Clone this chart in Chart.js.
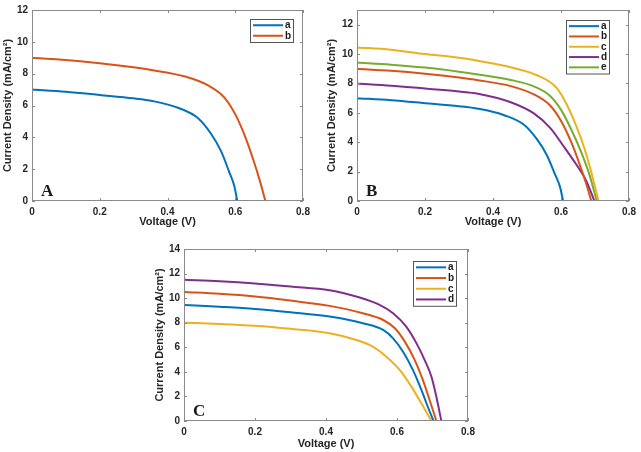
<!DOCTYPE html>
<html>
<head>
<meta charset="utf-8">
<script src="https://cdn.jsdelivr.net/npm/chart.js@4.4.1/dist/chart.umd.min.js"></script>
<style>
  body { margin: 0; background: #fff; }
  #wrap { position: relative; width: 641px; height: 452px; overflow: hidden; }
  canvas { position: absolute; }
</style>
</head>
<body>
<div id="wrap">
  <canvas id="chartA" width="320" height="232" style="left:0;top:0"></canvas>
  <canvas id="chartB" width="321" height="232" style="left:320px;top:0"></canvas>
  <canvas id="chartC" width="340" height="227" style="left:140px;top:225px"></canvas>
</div>
<script>
// ---------------- data ----------------
const xTicks = [0, 0.2, 0.4, 0.6, 0.8];

// curve a (same in panel A and B)
const voltA1 = [0, 0.1, 0.2, 0.3, 0.356, 0.433, 0.491, 0.529, 0.558, 0.582, 0.597, 0.606];
const currA1 = [7.0, 6.86, 6.66, 6.45, 6.28, 5.84, 5.19, 4.21, 3.13, 1.83, 0.96, 0];
// curve b (same in panel A and B)
const voltA2 = [0, 0.1, 0.2, 0.3, 0.356, 0.452, 0.52, 0.568, 0.601, 0.63, 0.655, 0.674, 0.689];
const currA2 = [9.0, 8.86, 8.66, 8.4, 8.22, 7.82, 7.26, 6.5, 5.41, 4.0, 2.48, 1.17, 0];

// panel B
const voltB3 = [0, 0.1, 0.2, 0.3, 0.356, 0.452, 0.529, 0.587, 0.616, 0.645, 0.669, 0.688, 0.71];
const currB3 = [10.45, 10.3, 10.0, 9.75, 9.54, 9.1, 8.56, 7.7, 6.6, 5.09, 3.56, 2.04, 0];
const voltB4 = [0, 0.1, 0.2, 0.3, 0.356, 0.452, 0.52, 0.568, 0.606, 0.645, 0.674, 0.698];
const currB4 = [8.0, 7.85, 7.65, 7.45, 7.3, 6.72, 5.96, 4.98, 3.78, 2.48, 1.39, 0];
const voltB5 = [0, 0.1, 0.2, 0.3, 0.356, 0.452, 0.52, 0.568, 0.601, 0.63, 0.659, 0.683, 0.705];
const currB5 = [9.42, 9.28, 9.08, 8.8, 8.61, 8.24, 7.8, 7.15, 6.17, 4.87, 3.35, 1.83, 0];

// panel C
const voltC1 = [0, 0.1, 0.2, 0.3, 0.41, 0.504, 0.561, 0.589, 0.617, 0.645, 0.669, 0.687, 0.703];
const currC1 = [9.45, 9.3, 9.12, 8.85, 8.5, 7.96, 7.41, 6.73, 5.64, 4.14, 2.51, 1.14, 0];
const voltC2 = [0, 0.1, 0.2, 0.3, 0.41, 0.504, 0.561, 0.594, 0.622, 0.65, 0.673, 0.692, 0.711];
const currC2 = [10.5, 10.35, 10.13, 9.8, 9.37, 8.77, 8.22, 7.55, 6.46, 4.96, 3.32, 1.69, 0];
const voltC3 = [0, 0.1, 0.2, 0.3, 0.41, 0.486, 0.532, 0.57, 0.608, 0.641, 0.669, 0.697];
const currC3 = [8.0, 7.9, 7.75, 7.5, 7.14, 6.59, 6.05, 5.23, 4.14, 2.78, 1.42, 0];
const voltC4 = [0, 0.1, 0.2, 0.3, 0.41, 0.495, 0.551, 0.589, 0.626, 0.655, 0.678, 0.697, 0.711, 0.725];
const currC4 = [11.5, 11.38, 11.2, 10.95, 10.65, 10.05, 9.45, 8.77, 7.68, 6.32, 4.96, 3.6, 1.96, 0];

// matlab default colours
const BLUE = '#0072BD', ORANGE = '#D95319', YELLOW = '#EDB120', PURPLE = '#7E2F8E', GREEN = '#77AC30';

function pts(xs, ys) {
  return xs.map((v, i) => ({ x: v, y: ys[i] }));
}
function ds(label, xs, ys, color) {
  return {
    label: label, data: pts(xs, ys), borderColor: color, backgroundColor: color,
    borderWidth: 2, pointRadius: 0, fill: false, cubicInterpolationMode: 'monotone'
  };
}

// box, inward ticks, panel letter and legend (matlab look)
const framePlugin = {
  id: 'frame',
  afterDraw(chart, args, o) {
    const ctx = chart.ctx, a = chart.chartArea;
    const x = chart.scales.x, y = chart.scales.y;
    ctx.save();
    ctx.strokeStyle = '#8a8a8a';
    ctx.lineWidth = 1;
    ctx.strokeRect(Math.round(a.left) + 0.5, Math.round(a.top) + 0.5,
                   Math.round(a.width) - 1, Math.round(a.height) - 1);
    ctx.beginPath();
    x.ticks.forEach(t => {
      const px = Math.round(x.getPixelForValue(t.value)) + 0.5;
      ctx.moveTo(px, a.bottom); ctx.lineTo(px, a.bottom - 3);
      ctx.moveTo(px, a.top); ctx.lineTo(px, a.top + 3);
    });
    y.ticks.forEach(t => {
      const py = Math.round(y.getPixelForValue(t.value)) + 0.5;
      ctx.moveTo(a.left, py); ctx.lineTo(a.left + 3, py);
      ctx.moveTo(a.right, py); ctx.lineTo(a.right - 3, py);
    });
    ctx.stroke();

    // panel letter
    ctx.fillStyle = '#1a1a1a';
    ctx.font = 'bold 17px "Liberation Serif"';
    ctx.textBaseline = 'alphabetic';
    ctx.fillText(o.letter, a.left + 9, a.bottom - 5);

    // legend
    const sets = chart.data.datasets;
    const w = 43, rowH = o.rowH;
    const bx = Math.round(a.right - o.right - w), by = Math.round(a.top + o.top);
    const bh = sets.length * rowH + 2;
    ctx.fillStyle = '#fff';
    ctx.fillRect(bx, by, w, bh);
    ctx.strokeStyle = '#555';
    ctx.strokeRect(bx + 0.5, by + 0.5, w, bh);
    ctx.font = 'bold 10px "Liberation Sans"';
    ctx.textBaseline = 'middle';
    sets.forEach((d, i) => {
      const ly = by + 1 + rowH / 2 + i * rowH;
      ctx.strokeStyle = d.borderColor;
      ctx.lineWidth = 2;
      ctx.beginPath();
      ctx.moveTo(bx + 3, ly); ctx.lineTo(bx + 33, ly);
      ctx.stroke();
      ctx.fillStyle = '#1a1a1a';
      ctx.fillText(d.label, bx + 35, ly);
    });
    ctx.restore();
  }
};

const tickFont = { family: 'Liberation Sans', size: 10, weight: 'bold' };
const titleFont = { family: 'Liberation Sans', size: 11, weight: 'bold' };

function makeChart(id, sets, yMax, p) {
  return new Chart(document.getElementById(id), {
    type: 'line',
    data: { datasets: sets },
    options: {
      responsive: false,
      animation: false,
      layout: { padding: { top: p.top, right: p.right, left: 0, bottom: 0 } },
      plugins: {
        legend: { display: false },
        tooltip: { enabled: false },
        frame: { letter: p.letter, right: p.legRight, top: p.legTop, rowH: p.rowH }
      },
      scales: {
        x: {
          type: 'linear', min: 0, max: 0.8,
          afterBuildTicks: s => { s.ticks = xTicks.map(v => ({ value: v })); },
          afterFit: s => { s.height = p.xH; },
          grid: { display: false, drawTicks: false },
          border: { display: false },
          ticks: { font: tickFont, color: '#262626', padding: 5, maxRotation: 0 },
          title: { display: true, text: 'Voltage (V)', font: titleFont, color: '#262626',
                   padding: { top: 0, bottom: p.xTitlePad } }
        },
        y: {
          min: 0, max: yMax,
          afterBuildTicks: s => { s.ticks = s.ticks.filter(t => t.value % 2 === 0); },
          afterFit: s => { s.width = p.yW; },
          grid: { display: false, drawTicks: false },
          border: { display: false },
          ticks: { font: tickFont, color: '#262626', padding: 4, stepSize: 2 },
          title: { display: true, text: 'Current Density (mA/cm²)', font: titleFont, color: '#262626',
                   padding: { top: p.yTitlePad, bottom: 0 } }
        }
      }
    },
    plugins: [framePlugin]
  });
}

// A
makeChart('chartA', [
  ds('a', voltA1, currA1, BLUE),
  ds('b', voltA2, currA2, ORANGE)
], 12, { top: 5, right: 17, yW: 32, xH: 31, xTitlePad: 3, yTitlePad: 1,
         letter: 'A', legRight: 10, legTop: 9, rowH: 10.5 });

// B
makeChart('chartB', [
  ds('a', voltA1, currA1, BLUE),
  ds('b', voltA2, currA2, ORANGE),
  ds('c', voltB3, currB3, YELLOW),
  ds('d', voltB4, currB4, PURPLE),
  ds('e', voltB5, currB5, GREEN)
], 13, { top: 3, right: 8, yW: 37, xH: 31, xTitlePad: 3, yTitlePad: 5,
         letter: 'B', legRight: 20, legTop: 10, rowH: 10.3 });

// C
makeChart('chartC', [
  ds('a', voltC1, currC1, BLUE),
  ds('b', voltC2, currC2, ORANGE),
  ds('c', voltC3, currC3, YELLOW),
  ds('d', voltC4, currC4, PURPLE)
], 14, { top: 24, right: 12, yW: 44, xH: 31, xTitlePad: 1, yTitlePad: 13,
         letter: 'C', legRight: 12, legTop: 12, rowH: 10.7 });
</script>
</body>
</html>
